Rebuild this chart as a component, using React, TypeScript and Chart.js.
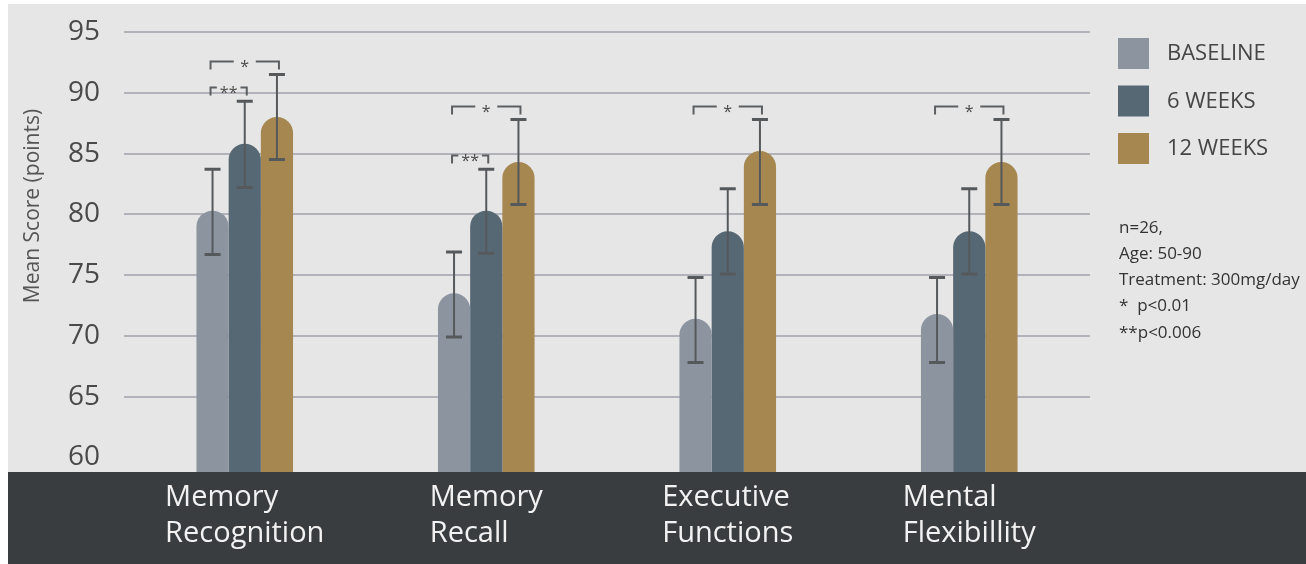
import React, { useEffect, useRef } from "react";
import { Chart, registerables } from "chart.js";

Chart.register(...registerables);

// ---------- data ----------
const categories: string[][] = [
  ["Memory", "Recognition"],
  ["Memory", "Recall"],
  ["Executive", "Functions"],
  ["Mental", "Flexibillity"],
];
const seriesNames = ["BASELINE", "6 WEEKS", "12 WEEKS"];

const baseline = [80.3, 73.5, 71.4, 71.8];
const weeks6 = [85.8, 80.3, 78.6, 78.6];
const weeks12 = [88.0, 84.3, 85.2, 84.3];

const baselineErrLow = [76.7, 69.9, 67.8, 67.8];
const baselineErrHigh = [83.7, 76.9, 74.8, 74.8];
const weeks6ErrLow = [82.2, 76.8, 75.1, 75.1];
const weeks6ErrHigh = [89.3, 83.7, 82.1, 82.1];
const weeks12ErrLow = [84.5, 80.8, 80.8, 80.8];
const weeks12ErrHigh = [91.5, 87.8, 87.8, 87.8];

const yTicks = [60, 65, 70, 75, 80, 85, 90, 95];

// significance brackets: category index, from series, to series, label
const sigCategory = [0, 0, 1, 1, 2, 3];
const sigFrom = [0, 0, 0, 0, 0, 0];
const sigTo = [2, 1, 2, 1, 2, 2];
const sigLabel = ["*", "**", "*", "**", "*", "*"];

const notes = ["n=26,", "Age: 50-90", "Treatment: 300mg/day", "*  p<0.01", "**p<0.006"];

// ---------- styles ----------
const seriesColors = ["#8c94a0", "#566874", "#a5874f"];
const FONT = "'Open Sans', sans-serif";
const errLows = [baselineErrLow, weeks6ErrLow, weeks12ErrLow];
const errHighs = [baselineErrHigh, weeks6ErrHigh, weeks12ErrHigh];

const decorPlugin = {
  id: "decor",
  beforeDraw(chart: any) {
    const { ctx, width, height, chartArea } = chart;
    ctx.save();
    ctx.fillStyle = "#ffffff";
    ctx.fillRect(0, 0, width, height);
    ctx.fillStyle = "#e6e6e6";
    ctx.fillRect(8, 4, width - 8, chartArea.bottom - 4);
    ctx.fillStyle = "#393d40";
    ctx.fillRect(8, chartArea.bottom, width - 8, height - chartArea.bottom);
    ctx.restore();
  },
  afterDatasetsDraw(chart: any) {
    const { ctx } = chart;
    const y = chart.scales.y;
    ctx.save();
    // error bars
    for (let d = 0; d < 3; d++) {
      const meta = chart.getDatasetMeta(d);
      meta.data.forEach((bar: any, i: number) => {
        const x = bar.x;
        const yh = y.getPixelForValue(errHighs[d][i]);
        const yl = y.getPixelForValue(errLows[d][i]);
        ctx.strokeStyle = "#56595c";
        ctx.lineWidth = 2;
        ctx.beginPath();
        ctx.moveTo(x, yh);
        ctx.lineTo(x, yl);
        ctx.stroke();
        ctx.lineWidth = 3;
        ctx.beginPath();
        ctx.moveTo(x - 8, yh);
        ctx.lineTo(x + 8, yh);
        ctx.moveTo(x - 8, yl);
        ctx.lineTo(x + 8, yl);
        ctx.stroke();
      });
    }
    // significance brackets
    ctx.font = `16px ${FONT}`;
    for (let k = 0; k < sigCategory.length; k++) {
      const c = sigCategory[k];
      const a = chart.getDatasetMeta(sigFrom[k]).data[c];
      const b = chart.getDatasetMeta(sigTo[k]).data[c];
      let top = Infinity;
      for (let d = sigFrom[k]; d <= sigTo[k]; d++) {
        top = Math.min(top, y.getPixelForValue(errHighs[d][c]));
      }
      const by = Math.round(top - 14) + 0.5;
      const x1 = a.x - 2;
      const x2 = b.x + 2;
      const mid = (x1 + x2) / 2;
      const tw = ctx.measureText(sigLabel[k]).width;
      const gap = Math.max(tw + 6, 22);
      ctx.strokeStyle = "#5c5f62";
      ctx.lineWidth = 2;
      ctx.beginPath();
      ctx.moveTo(x1, by + 8);
      ctx.lineTo(x1, by);
      ctx.lineTo(mid - gap / 2, by);
      ctx.moveTo(mid + gap / 2, by);
      ctx.lineTo(x2, by);
      ctx.lineTo(x2, by + 8);
      ctx.stroke();
      ctx.fillStyle = "#4a4a4a";
      ctx.textAlign = "center";
      ctx.textBaseline = "alphabetic";
      ctx.fillText(sigLabel[k], mid, by + 10);
    }
    ctx.restore();
  },
  afterDraw(chart: any) {
    const { ctx, chartArea } = chart;
    const xs = chart.scales.x;
    ctx.save();
    // category labels
    ctx.font = `29px ${FONT}`;
    ctx.fillStyle = "#f2f2f2";
    ctx.textAlign = "left";
    ctx.textBaseline = "alphabetic";
    categories.forEach((lines, i) => {
      const cx = xs.getPixelForValue(i);
      const w = Math.max(...lines.map((l) => ctx.measureText(l).width));
      lines.forEach((l, j) => {
        ctx.fillText(l, cx - w / 2, chartArea.bottom + 34 + j * 36);
      });
    });
    // y title
    ctx.save();
    ctx.translate(33, chartArea.top + 174);
    ctx.rotate(-Math.PI / 2);
    ctx.font = `21px ${FONT}`;
    ctx.fillStyle = "#555555";
    ctx.textAlign = "center";
    ctx.textBaseline = "middle";
    ctx.fillText("Mean Score (points)", 0, 0);
    ctx.restore();
    // legend
    const lx = chartArea.right + 28;
    ctx.font = `22px ${FONT}`;
    ctx.textBaseline = "middle";
    ctx.textAlign = "left";
    seriesNames.forEach((name, i) => {
      const top = chartArea.top + 6 + i * 47.5;
      ctx.fillStyle = seriesColors[i];
      ctx.fillRect(lx, top, 31, 31);
      ctx.fillStyle = "#454545";
      ctx.fillText(name, lx + 49, top + 16);
    });
    // notes
    ctx.font = `17px ${FONT}`;
    ctx.fillStyle = "#333333";
    notes.forEach((n, i) => {
      ctx.fillText(n, lx + 1, chartArea.top + 196 + i * 26.2);
    });
    ctx.restore();
  },
};

export default function App() {
  const ref = useRef<HTMLCanvasElement | null>(null);
  useEffect(() => {
    if (!ref.current) return;
    const chart = new Chart(ref.current, {
      type: "bar",
      data: {
        labels: categories.map((c) => c.join(" ")),
        datasets: [baseline, weeks6, weeks12].map((data, i) => ({
          label: seriesNames[i],
          data,
          backgroundColor: seriesColors[i],
          borderWidth: 0,
          borderRadius: 16,
          borderSkipped: "start",
          categoryPercentage: 0.4,
          barPercentage: 1.0,
        })),
      },
      options: {
        animation: false,
        responsive: false,
        devicePixelRatio: 1,
        layout: { padding: { top: 32, right: 216, bottom: 92, left: 0 } },
        plugins: { legend: { display: false }, tooltip: { enabled: false } },
        scales: {
          x: { display: false },
          y: {
            min: 58.8,
            max: 95,
            afterFit: (s: any) => {
              s.width = 124;
              s.paddingTop = 0;
              s.paddingBottom = 0;
            },
            afterBuildTicks: (s: any) => {
              s.ticks = yTicks.map((v) => ({ value: v }));
            },
            border: { display: false },
            grid: {
              drawTicks: false,
              lineWidth: 2,
              color: (c: any) =>
                c.tick && c.tick.value === yTicks[0] ? "rgba(0,0,0,0)" : "#b2b2ba",
            },
            ticks: {
              padding: 24,
              color: "#4a4a4a",
              font: { family: "'Open Sans', sans-serif", size: 28, lineHeight: 1 },
            },
          },
        },
      },
      plugins: [decorPlugin],
    } as any);
    return () => chart.destroy();
  }, []);
  return (
    <div style={{ position: "fixed", left: 0, top: 0, width: 1306, height: 564 }}>
      <canvas ref={ref} width={1306} height={564} />
    </div>
  );
}
